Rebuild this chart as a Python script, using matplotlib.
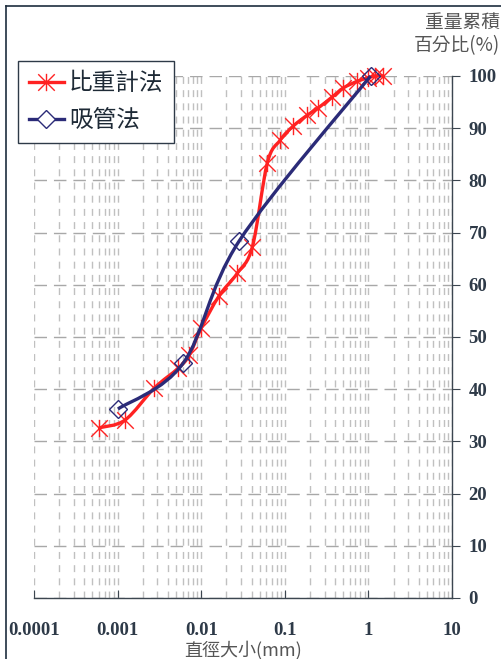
import numpy as np
import matplotlib
matplotlib.use('Agg')
import matplotlib.pyplot as plt
from matplotlib.path import Path
from matplotlib.patches import PathPatch
from matplotlib.lines import Line2D
from matplotlib.ticker import LogLocator, NullFormatter, FixedLocator

# 比重計法 (hydrometer)
hydro_d = [0.0006, 0.00123, 0.00274, 0.0053, 0.0072, 0.0100, 0.0164, 0.027, 0.041,
           0.0617, 0.088, 0.126, 0.186, 0.252, 0.37, 0.50, 0.74, 0.98, 1.21, 1.5]
hydro_p = [32.6, 34.1, 40.2, 44.0, 46.5, 51.7, 57.9, 62.2, 67.3,
           83.3, 87.7, 90.4, 92.5, 93.9, 96.0, 97.7, 99.0, 99.6, 100.0, 100.0]

# 吸管法 (pipette)
pipe_d = [0.00101, 0.0061, 0.0285, 1.06]
pipe_p = [36.2, 45.0, 68.4, 100.0]

x_ticks = [0.0001, 0.001, 0.01, 0.1, 1, 10]
x_labels = ['0.0001', '0.001', '0.01', '0.1', '1', '10']
y_ticks = list(range(0, 101, 10))

RED = '#ff2222'
NAVY = '#2b2b78'
TXT = '#2e3a48'
GRAY = '#555555'

plt.rcParams['font.family'] = ['Noto Sans CJK TC', 'DejaVu Sans']

fig = plt.figure(figsize=(5.02, 6.59), dpi=100)
ax = fig.add_axes([0.0677, 0.0926, 0.8327, 0.7921])
ax.set_xscale('log')
ax.set_xlim(0.0001, 10)
ax.set_ylim(0, 100)


def smooth_path(xs, ys):
    # excel-like smoothed line: bezier through the points, built in log-x space
    lx = np.log10(xs)
    ys = np.asarray(ys, float)
    n = len(lx)
    verts = [(xs[0], ys[0])]
    codes = [Path.MOVETO]
    for i in range(n - 1):
        p0 = (lx[max(i - 1, 0)], ys[max(i - 1, 0)])
        p1 = (lx[i], ys[i])
        p2 = (lx[i + 1], ys[i + 1])
        p3 = (lx[min(i + 2, n - 1)], ys[min(i + 2, n - 1)])
        c1 = (p1[0] + (p2[0] - p0[0]) / 6, p1[1] + (p2[1] - p0[1]) / 6)
        c2 = (p2[0] - (p3[0] - p1[0]) / 6, p2[1] - (p3[1] - p1[1]) / 6)
        for c in (c1, c2, p2):
            verts.append((10 ** c[0], c[1]))
        codes += [Path.CURVE4] * 3
    return Path(verts, codes)


# asterisk marker: X plus vertical bar
star = Path([(-1, -1), (1, 1), (-1, 1), (1, -1), (0, -1.05), (0, 1.05)],
            [Path.MOVETO, Path.LINETO, Path.MOVETO, Path.LINETO, Path.MOVETO, Path.LINETO])

ax.plot(hydro_d, hydro_p, linestyle='none', marker=star, ms=12.5, mec=RED, mew=1.0,
        zorder=2.5, clip_on=False)

for xs, ys, col in [(hydro_d, hydro_p, RED), (pipe_d, pipe_p, NAVY)]:
    patch = PathPatch(smooth_path(xs, ys), fill=False, edgecolor=col, lw=2.4,
                      transform=ax.transData, zorder=3, clip_on=False)
    ax.add_patch(patch)

ax.plot(pipe_d, pipe_p, linestyle='none', marker='D', ms=9, mec=NAVY, mfc='none',
        mew=1.0, zorder=4, clip_on=False)

# grid
ax.xaxis.set_major_locator(FixedLocator(x_ticks))
ax.xaxis.set_minor_locator(LogLocator(base=10, subs=np.arange(2, 10)))
ax.xaxis.set_minor_formatter(NullFormatter())
ax.set_xticklabels(x_labels)
ax.set_yticks(y_ticks)
ax.grid(True, which='both', axis='x', color='#c0c0c0', lw=1.0, dashes=(5, 4.5))
ax.grid(True, which='major', axis='y', color='#a8a8a8', lw=1.0, dashes=(9, 5))
ax.set_axisbelow(True)

for s in ['top', 'left']:
    ax.spines[s].set_visible(False)
for s in ['bottom', 'right']:
    ax.spines[s].set_color('#3c4650')
    ax.spines[s].set_linewidth(1.0)

ax.yaxis.tick_right()
ax.tick_params(axis='x', which='major', direction='in', length=6, color='#3c4650', pad=17)
ax.tick_params(axis='x', which='minor', length=0)
ax.tick_params(axis='y', direction='out', length=6, color='#3c4650', pad=6)
for lab in ax.get_xticklabels() + ax.get_yticklabels():
    lab.set_fontfamily('Liberation Serif')
    lab.set_fontweight('bold')
    lab.set_fontsize(13.5)
    lab.set_color(TXT)

fig.text(0.996, 0.982, '重量累積\n百分比(%)', ha='right', va='top', fontsize=13.5,
         color=GRAY, linespacing=1.15)
fig.text(0.484, 0.0, '直徑大小(mm)', ha='center', va='bottom', fontsize=13,
         color=GRAY)

handles = [
    Line2D([], [], color=RED, lw=2.4, marker=star, ms=12.5, mec=RED, mew=1.0),
    Line2D([], [], color=NAVY, lw=2.4, marker='D', ms=9, mec=NAVY, mfc='white', mew=1.0),
]
leg = ax.legend(handles, ['比重計法', '吸管法'], loc='upper left',
                bbox_to_anchor=(0.036, 0.907), bbox_transform=fig.transFigure,
                borderaxespad=0, fontsize=17, fancybox=False, framealpha=1,
                edgecolor='#2e3a48', handlelength=1.5, handletextpad=0.2,
                labelspacing=0.6, borderpad=0.45, numpoints=1)
leg.get_frame().set_linewidth(1.0)
for t in leg.get_texts():
    t.set_color('#1e2a36')
    t.set_fontweight('medium')
leg.set_zorder(10)

# outer frame of the picture
fig.add_artist(Line2D([6 / 502, 1], [1 - 6 / 659, 1 - 6 / 659], color='#1e2e3e', lw=1.2,
                      transform=fig.transFigure))
fig.add_artist(Line2D([6 / 502, 6 / 502], [0, 1 - 6 / 659], color='#1e2e3e', lw=1.2,
                      transform=fig.transFigure))

fig.savefig('out.png', dpi=100)
